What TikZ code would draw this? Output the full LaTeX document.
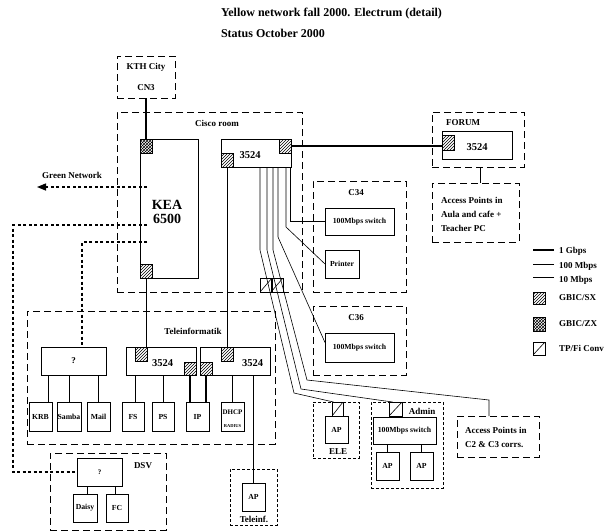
\documentclass[tikz,border=0pt]{standalone}
\usepackage{fontspec}
\setmainfont{Liberation Serif}
\usetikzlibrary{patterns,arrows.meta,calc}
\begin{document}
\begin{tikzpicture}[x=1pt,y=-1pt,
  every node/.style={inner sep=0pt,outer sep=0pt},
  sz/.style 2 args={minimum width=#1pt,minimum height=#2pt},
  lab/.style={font=\fontsize{9}{11}\selectfont\bfseries},
  n35/.style={font=\fontsize{10.5}{12}\selectfont\bfseries},
  sw/.style={font=\fontsize{7.7}{9}\selectfont\bfseries},
  srv/.style={font=\fontsize{7.7}{9}\selectfont\bfseries},
  sbox/.style={draw,line width=0.7pt},
  dbox/.style={draw,line width=0.7pt,dash pattern=on 7pt off 4pt},
  sdbox/.style={draw,line width=0.9pt,dash pattern=on 3pt off 2pt},
  gsx/.style={draw,line width=0.6pt,pattern=north east lines},
  gzx/.style={draw,line width=0.6pt,pattern=crosshatch},
  conv/.style={draw,line width=0.6pt,path picture={\draw[line width=0.6pt] (path picture bounding box.south west) -- (path picture bounding box.north east);}},
  gig/.style={line width=1.3pt},
  mid/.style={line width=1.0pt},
  thn/.style={line width=0.6pt},
  dl/.style={line width=1.4pt,dash pattern=on 3pt off 2.5pt}
]
\useasboundingbox (0,0) rectangle (609,531);

% title
\node[anchor=west,font=\fontsize{12}{14}\selectfont\bfseries] (t1) at (221,14) {Yellow network fall 2000. Electrum (detail)};
\node[anchor=west,font=\fontsize{12}{14}\selectfont\bfseries] (t2) at (221,33) {Status October 2000};

% KTH City
\node[dbox,sz={58}{42}] (kth) at (146,77) {};
\node[lab] (kthl) at (146,67) {KTH City};
\node[lab] (cn3) at (146,88) {CN3};

% Cisco room
\node[dbox,sz={185}{180}] (cisco) at (209.5,202) {};
\node[lab] (ciscol) at (217,123) {Cisco room};
\node[sbox,sz={58}{139}] (kea) at (169,208.5) {};
\node[font=\fontsize{14}{14.5}\selectfont\bfseries,align=center] (keal) at (167,212) {KEA\\6500};
\node[gzx,sz={12}{14}] (kzx) at (146,146) {};
\node[gsx,sz={12}{14}] (ksx) at (146,271) {};
\node[sbox,sz={70}{28}] (cs) at (256,153) {};
\node[n35] (csl) at (250,155) {3524};
\node[gsx,sz={12}{14}] (csg1) at (285,146) {};
\node[gsx,sz={12}{14}] (csg2) at (227,160) {};

% FORUM
\node[dbox,sz={92}{55}] (forum) at (478,139.5) {};
\node[lab] (foruml) at (463,123) {FORUM};
\node[sbox,sz={70}{28}] (fs3524) at (477,145) {};
\node[n35] (fsl) at (477,147) {3524};
\node[gsx,sz={12}{15}] (fg) at (448,142.5) {};
\node[dbox,sz={87}{59}] (apa) at (475.5,212.5) {};
\node[anchor=west,align=left,font=\fontsize{9}{14}\selectfont\bfseries] (apal) at (441,214) {Access Points in\\Aula and cafe +\\Teacher PC};

% C34 / C36
\node[dbox,sz={93}{111}] (c34) at (359.5,236.5) {};
\node[lab] (c34l) at (356,193) {C34};
\node[sbox,sw,sz={69}{27}] (c34sw) at (359.5,221.5) {100Mbps switch};
\node[sbox,srv,sz={34}{28}] (prn) at (342,264) {Printer};
\node[dbox,sz={93}{69}] (c36) at (359.5,340.5) {};
\node[lab] (c36l) at (356,318) {C36};
\node[sbox,sw,sz={69}{29}] (c36sw) at (359.5,347.5) {100Mbps switch};

% Teleinformatik
\node[dbox,sz={248}{133}] (ti) at (151,377.5) {};
\node[lab] (til) at (193,331) {Teleinformatik};
\node[sbox,lab,sz={65}{28}] (q1) at (73.5,361) {?};
\node[sbox,sz={70}{28}] (tia) at (161,361) {};
\node[n35] (tial) at (162.5,363) {3524};
\node[sbox,sz={70}{28}] (tib) at (235,361) {};
\node[n35] (tibl) at (252.5,363) {3524};
\node[gsx,sz={12}{14}] (tiag) at (141.5,354) {};
\node[gsx,sz={12}{14}] (tibg) at (227,354) {};
\node[gsx,sz={12}{13}] (tiag2) at (190,368.5) {};
\node[gsx,sz={12}{13}] (tibg2) at (206,368.5) {};
\node[sbox,srv,sz={23}{29}] (krb) at (40.5,416.5) {KRB};
\node[sbox,srv,sz={24}{29}] (samba) at (69,416.5) {Samba};
\node[sbox,srv,sz={23}{29}] (mail) at (98.5,416.5) {Mail};
\node[sbox,srv,sz={22}{29}] (fsv) at (133,416.5) {FS};
\node[sbox,srv,sz={22}{29}] (psv) at (163,416.5) {PS};
\node[sbox,srv,sz={23}{29}] (ip) at (197.5,416.5) {IP};
\node[sbox,sz={23}{29}] (dhcp) at (232.5,416.5) {};
\node[font=\fontsize{7}{8}\selectfont\bfseries] (dhcpl) at (232.5,412) {DHCP};
\node[font=\fontsize{4.5}{5}\selectfont\bfseries] (radl) at (232.5,426) {RADIUS};

\draw[thn] ([xshift=7.5pt]krb.north) -- ([xshift=7.5pt]krb.north |- q1.south);
\draw[thn] (samba.north) -- (samba.north |- q1.south);
\draw[thn] (mail.north) -- (mail.north |- q1.south);
\draw[thn] ([xshift=2pt]fsv.north) -- ([xshift=2pt]fsv.north |- tia.south);
\draw[thn] (psv.north) -- (psv.north |- tia.south);
\draw[thn] (dhcp.north) -- (dhcp.north |- tib.south);
\draw[gig] (tiag2.south) -- (tiag2.south |- ip.north);
\draw[gig] (tibg2.south) -- (tibg2.south |- ip.north);

% DSV
\node[dbox,sz={116}{77}] (dsv) at (108,491.5) {};
\node[lab] (dsvl) at (143,466) {DSV};
\node[sbox,font=\fontsize{7}{8}\selectfont\bfseries,sz={45}{28}] (dsvq) at (99.5,472) {?};
\node[sbox,srv,sz={24}{28}] (daisy) at (85,508) {Daisy};
\node[sbox,srv,sz={22}{28}] (fc) at (117,508) {FC};
\draw[thn] ([xshift=2pt]daisy.north) -- ([xshift=2pt]daisy.north |- dsvq.south);
\draw[thn] ([xshift=-2pt]fc.north) -- ([xshift=-2pt]fc.north |- dsvq.south);

% Teleinf
\node[sdbox,sz={47}{56}] (tinf) at (253.5,497) {};
\node[sbox,srv,sz={23}{28}] (apt) at (253.5,497) {AP};
\node[lab] (tinfl) at (254,519) {Teleinf.};
\draw[thn] (apt.north |- tib.south) -- (apt.north);

% ELE
\node[sdbox,sz={46}{56}] (ele) at (336,430) {};
\node[conv,sz={11}{14}] (elecv) at (337.5,409) {};
\node[sbox,srv,sz={23}{27}] (eleap) at (336.5,429.5) {AP};
\node[lab] (elel) at (338,452) {ELE};

% Admin
\node[sdbox,sz={72}{86}] (adm) at (407,445) {};
\node[conv,sz={13}{14}] (admcv) at (395.5,409) {};
\node[lab] (adml) at (422,411) {Admin};
\node[sbox,sw,sz={63}{27}] (admsw) at (404.5,430.5) {100Mbps switch};
\node[sbox,srv,sz={23}{28}] (ap1) at (387.5,466) {AP};
\node[sbox,srv,sz={23}{28}] (ap2) at (421.5,466) {AP};
\draw[thn] (ap1.north) -- (ap1.north |- admsw.south);
\draw[thn] (ap2.north) -- (ap2.north |- admsw.south);

% Access points C2 C3
\node[dbox,sz={82}{41}] (apc) at (498,436.5) {};
\node[anchor=west,align=left,font=\fontsize{9}{14}\selectfont\bfseries] (apcl) at (465,437) {Access Points in\\C2 \& C3 corrs.};

% middle converters
\node[conv,sz={12}{14}] (cv1) at (266,285) {};
\node[conv,sz={12}{14}] (cv2) at (277,285) {};

% thick links
\draw[gig] (kzx.north) -- (kzx.north |- kth.south);
\draw[mid] (ksx.south) -- (ksx.south |- tiag.north);
\draw[mid] (csg2.south) -- (csg2.south |- tibg.north);
\draw[gig] (csg1.east) -- (csg1.east -| fg.west);
\draw[thn] ([xshift=2pt]forum.south) -- ([xshift=2pt]forum.south |- apa.north);

% bundle
\coordinate (k1) at (294,393);
\coordinate (k2) at (301,389);
\coordinate (k3) at (307,380);
\coordinate (k4) at (489,400);
\draw[thn] ([xshift=4pt]cs.south) -- ++(0,83) -- (k1) -- ([xshift=-4pt]elecv.north);
\draw[thn] ([xshift=11pt]cs.south) -- ++(0,83) -- (k2) -- ([xshift=-3pt]admcv.north);
\draw[thn] ([xshift=17pt]cs.south) -- ++(0,83) -- (k3) -- (k4) -- (k4 |- apc.north);
\draw[thn] ([xshift=22pt]cs.south) -- ++(0,70) -- ([yshift=5pt]c36sw.west);
\draw[thn] ([xshift=30pt]cs.south) -- ++(0,60) -- (prn.west);
\draw[thn] ([xshift=34pt]cs.south) |- (c34sw.west);

% dotted links
\coordinate (gnend) at (37,187);
\coordinate (d2a) at (13,225);
\draw[dl,-{Triangle[length=9pt,width=7pt]}] ([xshift=7pt,yshift=21.5pt]kea.west) -- (gnend);
\node[lab] (gnl) at (72,175) {Green Network};
\draw[dl] ([xshift=7pt,yshift=-16.5pt]kea.west) -- (d2a) |- (dsvq.west);
\draw[dl] ([xshift=7pt,yshift=-33.5pt]kea.west) -| ([xshift=8.5pt]q1.north);

% legend
\node[lab,anchor=west] (lg1) at (559,251) {1 Gbps};
\node[lab,anchor=west] (lg2) at (559,266) {100 Mbps};
\node[lab,anchor=west] (lg3) at (559,280) {10 Mbps};
\draw[gig] ([xshift=-5pt,yshift=1pt]lg1.west) -- ++(-21,0);
\draw[line width=0.8pt] ([xshift=-5pt,yshift=2pt]lg2.west) -- ++(-21,0);
\draw[line width=0.5pt] ([xshift=-5pt,yshift=3pt]lg3.west) -- ++(-21,0);
\node[gsx,sz={12}{12}] (lgsx) at (539,298) {};
\node[lab,anchor=west] (lg4) at (559,298) {GBIC/SX};
\node[gzx,sz={12}{14}] (lgzx) at (539,324) {};
\node[lab,anchor=west] (lg5) at (559,324) {GBIC/ZX};
\node[conv,sz={12}{13}] (lgcv) at (539,348.5) {};
\node[lab,anchor=west] (lg6) at (559,348) {TP/Fi Conv};
\end{tikzpicture}
\end{document}
